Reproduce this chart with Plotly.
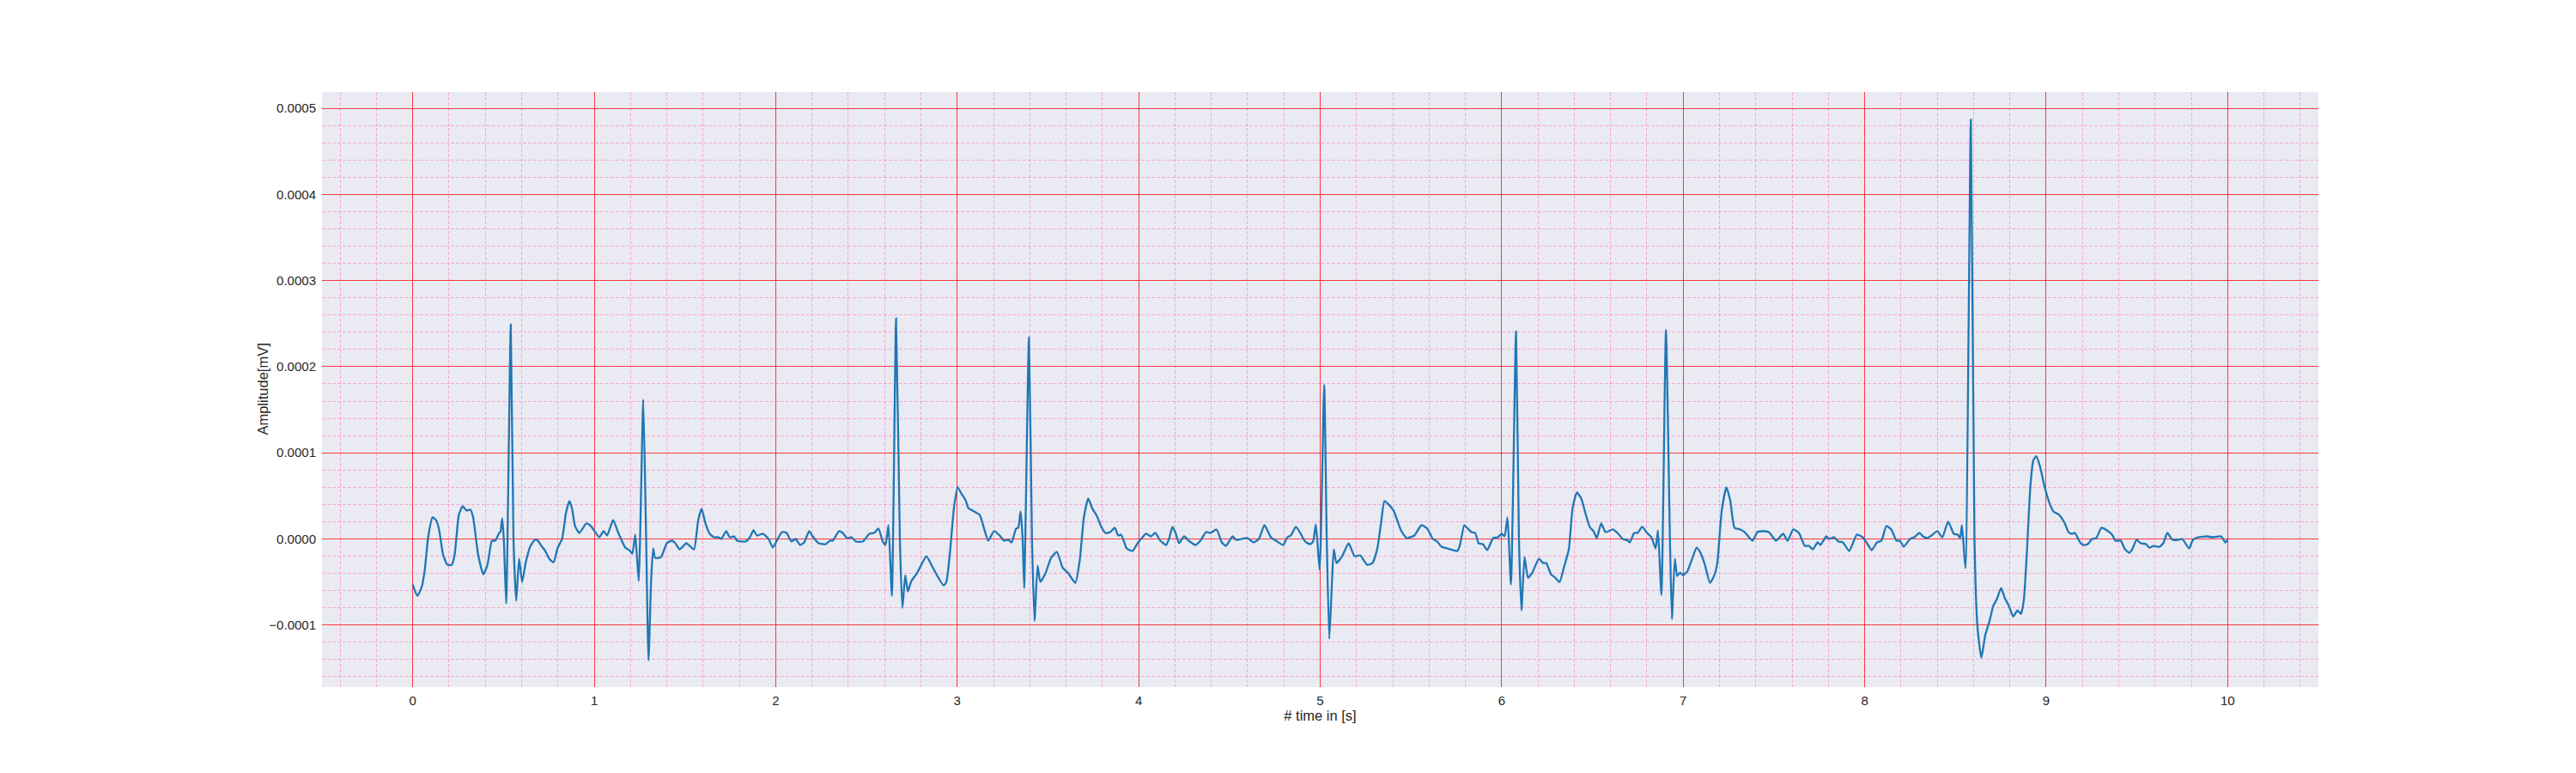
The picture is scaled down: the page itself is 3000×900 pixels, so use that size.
import plotly.graph_objects as go

# time in seconds
time_s = [
    0.000, 0.025, 0.049, 0.065, 0.085, 0.109, 0.128, 0.144, 0.167, 0.191, 0.215, 0.231, 0.254, 0.275, 0.297,
    0.318, 0.333, 0.360, 0.389, 0.412, 0.436, 0.455, 0.476, 0.483, 0.493, 0.502, 0.515, 0.540, 0.555, 0.570,
    0.586, 0.603, 0.622, 0.649, 0.673, 0.689, 0.712, 0.728, 0.752, 0.776, 0.799, 0.823, 0.844, 0.863, 0.878,
    0.894, 0.918, 0.957, 0.981, 1.005, 1.028, 1.052, 1.071, 1.104, 1.131, 1.171, 1.194, 1.210, 1.226, 1.245,
    1.270, 1.286, 1.299, 1.314, 1.325, 1.336, 1.368, 1.400, 1.428, 1.447, 1.471, 1.507, 1.526, 1.550, 1.573,
    1.592, 1.613, 1.636, 1.660, 1.684, 1.700, 1.727, 1.747, 1.771, 1.787, 1.834, 1.858, 1.877, 1.897, 1.929,
    1.961, 1.984,
    2.016, 2.035, 2.060, 2.086, 2.110, 2.134, 2.157, 2.184, 2.204, 2.236, 2.275, 2.299, 2.314, 2.349, 2.369,
    2.393, 2.417, 2.443, 2.480, 2.516, 2.542, 2.566, 2.590, 2.605, 2.621, 2.640, 2.663, 2.684, 2.698, 2.714,
    2.728, 2.747, 2.778, 2.802, 2.830, 2.865, 2.888, 2.925, 2.940, 2.959, 2.983, 3.003, 3.022, 3.046, 3.061,
    3.093, 3.124, 3.148, 3.171, 3.203, 3.234, 3.258, 3.281, 3.300, 3.324, 3.336, 3.349, 3.360, 3.369, 3.395,
    3.412, 3.426, 3.443, 3.458, 3.486, 3.517, 3.549, 3.580, 3.612, 3.651, 3.675, 3.698, 3.722, 3.745, 3.769,
    3.792, 3.816, 3.843, 3.868, 3.887, 3.903, 3.934, 3.965,
    3.994, 4.017, 4.041, 4.068, 4.091, 4.119, 4.151, 4.167, 4.186, 4.203, 4.222, 4.250, 4.281, 4.313, 4.340,
    4.371, 4.395, 4.429, 4.458, 4.481, 4.517, 4.536, 4.599, 4.634, 4.662, 4.693, 4.728, 4.756, 4.796, 4.819,
    4.838, 4.866, 4.890, 4.917, 4.945, 4.961, 4.976, 4.997, 5.022, 5.036, 5.050, 5.066, 5.075, 5.090, 5.121,
    5.157, 5.189, 5.220, 5.259, 5.288, 5.314, 5.335, 5.354, 5.377, 5.404, 5.445, 5.476, 5.495, 5.519, 5.558,
    5.590, 5.621, 5.645, 5.668, 5.700, 5.755, 5.770, 5.794, 5.809, 5.833, 5.854, 5.873, 5.896, 5.920,
    5.953, 5.979, 6.000, 6.016, 6.032, 6.051, 6.079, 6.095, 6.109, 6.126, 6.145, 6.169, 6.205, 6.229, 6.245,
    6.272, 6.295, 6.319, 6.343, 6.370, 6.390, 6.414, 6.438, 6.464, 6.485, 6.506, 6.524, 6.548, 6.572, 6.611,
    6.638, 6.667, 6.695, 6.706, 6.730, 6.749, 6.774, 6.801, 6.825, 6.848, 6.861, 6.880, 6.905, 6.927, 6.938,
    6.954, 6.967, 6.983, 6.998, 7.022, 7.046, 7.074, 7.093, 7.117, 7.148, 7.172, 7.188, 7.212, 7.238, 7.259,
    7.283, 7.314, 7.338, 7.382, 7.409, 7.441, 7.472, 7.512, 7.551, 7.575, 7.607, 7.638, 7.670, 7.693, 7.714,
    7.741, 7.757, 7.788, 7.804, 7.832, 7.855, 7.880, 7.915,
    7.957, 7.989, 8.013, 8.039, 8.068, 8.092, 8.120, 8.147, 8.175, 8.194, 8.215, 8.250, 8.273, 8.302, 8.321,
    8.344, 8.368, 8.400, 8.428, 8.460, 8.491, 8.513, 8.526, 8.536, 8.555, 8.585, 8.605, 8.621, 8.643, 8.665,
    8.687, 8.708, 8.728, 8.752, 8.771, 8.795, 8.818, 8.842, 8.861, 8.877, 8.893, 8.913, 8.929, 8.945, 8.965,
    8.992, 9.016, 9.040, 9.071, 9.103, 9.123, 9.142, 9.158, 9.187, 9.205, 9.229, 9.253, 9.276, 9.305, 9.335,
    9.363, 9.382, 9.411, 9.434, 9.458, 9.474, 9.498, 9.521, 9.550, 9.569, 9.592, 9.624, 9.645, 9.668, 9.695,
    9.727, 9.750, 9.787, 9.809, 9.837, 9.888, 9.916, 9.964, 9.987, 10.000,
]

# amplitude in units of 1e-5 mV
amplitude_1e5 = [
    -5.3, -6.6, -5.6, -3.8, 0.2, 2.5, 2.2, 1.2, -1.8, -3.0, -3.0, -1.8, 2.8, 3.8, 3.3,
    3.4, 2.5, -1.8, -4.1, -3.0, -0.2, -0.2, 0.7, 0.8, 2.4, -0.2, -7.5, 24.9, 0.0, -7.2,
    -2.3, -5.0, -2.8, -0.8, -0.1, -0.2, -0.9, -1.3, -2.3, -2.7, -1.0, 0.0, 3.0, 4.4, 3.5,
    1.5, 0.7, 1.8, 1.5, 0.8, 0.2, 0.9, 0.4, 2.2, 0.8, -1.0, -1.3, -1.7, 0.5, -4.9,
    16.2, 0.0, -14.1, -4.5, -1.1, -2.2, -2.1, -0.5, -0.2, -0.5, -1.2, -0.5, -0.8, -1.2, 2.2,
    3.5, 1.8, 0.6, 0.2, 0.2, 0.0, 0.9, 0.2, 0.3, -0.2, -0.3, 0.2, 1.0, 0.4, 0.6,
    0.0, -1.0,
    0.2, 0.8, 0.7, -0.3, 0.0, -0.7, -0.4, 0.9, 0.3, -0.5, -0.6, -0.2, -0.2, 0.9, 0.7,
    0.1, 0.2, -0.3, -0.3, 0.6, 0.7, 1.2, -0.3, -0.7, 1.6, -6.6, 25.6, 0.0, -8.0, -4.2,
    -6.1, -4.9, -4.0, -3.0, -2.0, -3.3, -4.2, -5.4, -5.0, -1.8, 3.8, 6.0, 5.3, 4.5, 3.6,
    3.2, 2.8, 1.2, -0.2, 0.9, 0.4, -0.2, -0.1, -0.4, 1.2, 1.3, 3.2, 0.2, -5.7, 23.4,
    0.0, -9.5, -3.1, -5.0, -4.0, -2.2, -1.5, -3.3, -4.0, -5.1, -2.5, 2.5, 4.7, 3.5, 2.7,
    1.5, 0.7, 0.8, 1.3, 0.4, 0.5, -1.1, -1.4,
    -0.5, 0.1, 0.6, 0.3, 0.7, -0.2, -0.7, 0.0, 1.4, 0.7, -0.5, 0.3, -0.3, -0.7, -0.2,
    0.8, 0.7, 1.1, -0.4, -0.8, 0.3, -0.1, 0.1, -0.4, 0.0, 1.6, 0.2, -0.2, -0.7, 0.2,
    0.4, 1.4, 0.7, -0.3, -0.6, -0.3, 1.7, -3.6, 17.9, 0.0, -11.6, -4.5, -1.2, -2.8, -2.0,
    -0.5, -2.0, -1.9, -3.0, -2.8, -1.2, 1.8, 4.4, 4.0, 3.3, 1.0, 0.1, 0.2, 0.4, 1.6,
    1.2, 0.0, -0.3, -0.9, -1.1, -1.4, -0.7, 1.6, 1.3, 0.8, 0.7, -0.5, -0.6, -1.3,
    0.1, 0.2, 0.6, 0.3, 2.5, -5.3, 24.1, 0.0, -8.3, -2.1, -4.5, -3.9, -2.3, -2.8, -2.8,
    -4.1, -4.5, -5.0, -3.3, -1.2, 3.5, 5.4, 4.7, 2.8, 1.4, 0.9, 0.1, 1.8, 0.8, 1.1,
    0.7, 0.0, -0.2, -0.4, 0.7, 0.7, 1.4, 0.7, 0.2, -1.1, 1.0, -6.5, 24.3, 0.0, -9.3,
    -2.3, -4.3, -3.9, -4.2, -3.8, -2.5, -1.0, -1.5, -2.8, -5.1, -4.2, -2.8, 3.2, 6.0, 4.5,
    1.3, 1.1, 0.8, -0.2, 0.8, 0.9, 0.8, -0.2, 0.6, -0.2, 1.1, 0.7, -0.8, -0.8, -1.2,
    -0.4, -0.7, 0.3, 0.0, 0.2, -0.3, -0.4, -1.4,
    0.5, 0.2, -0.5, -1.3, -0.4, -0.2, 1.5, 1.1, -0.2, -0.2, -0.9, 0.0, 0.2, 0.7, 0.3,
    0.1, 0.4, 0.9, 0.2, 2.0, 0.6, 0.5, 0.1, 1.6, -3.4, 48.7, 0.0, -10.1, -13.8, -11.1,
    -9.6, -7.8, -7.0, -5.7, -6.8, -7.8, -9.0, -8.3, -8.7, -7.1, -1.8, 6.1, 9.1, 9.6, 8.5,
    6.0, 4.3, 3.2, 2.8, 1.8, 0.8, 0.6, 0.7, -0.4, -0.7, -0.6, 0.0, 0.1, 1.3, 1.0,
    0.5, -0.2, -0.2, -1.2, -1.6, -1.2, -0.1, -0.5, -0.6, -1.0, -0.8, -0.9, -0.5, 0.7, -0.1,
    -0.1, 0.0, -1.1, -0.1, 0.2, 0.3, 0.2, 0.3, -0.4, -0.1,
]

amplitude_mV = [a * 1e-5 for a in amplitude_1e5]

x_tick_vals = [0, 1, 2, 3, 4, 5, 6, 7, 8, 9, 10]
y_tick_vals = [-0.0001, 0.0, 0.0001, 0.0002, 0.0003, 0.0004, 0.0005]

FONT = "Liberation Sans, Arial, sans-serif"
TEXT = "#262626"
MAJOR = "rgba(255,0,0,0.7)"
MINOR = "rgba(255,105,180,0.5)"

fig = go.Figure()
fig.add_trace(go.Scatter(
    x=time_s, y=amplitude_mV, mode="lines",
    line=dict(color="#1f77b4", width=2.3, shape="spline", smoothing=0.5),
    showlegend=False, hoverinfo="skip",
))

fig.update_layout(
    width=2992, height=892,
    paper_bgcolor="white", plot_bgcolor="#EAEAF2",
    margin=dict(l=367, r=300, t=99, b=100),
    font=dict(family=FONT, color=TEXT, size=15),
)

fig.update_xaxes(
    range=[-0.5, 10.5], tickvals=x_tick_vals, ticktext=[str(v) for v in x_tick_vals],
    showgrid=True, gridcolor=MAJOR, gridwidth=1,
    zeroline=False, showline=False, ticks="", ticklabelstandoff=5,
    tickfont=dict(size=15, family=FONT, color=TEXT),
    minor=dict(dtick=0.2, tick0=0, showgrid=True, gridcolor=MINOR, gridwidth=1, griddash="4px,2px"),
    title=dict(text="# time in [s]", font=dict(size=16.5, family=FONT, color=TEXT), standoff=1),
)
fig.update_yaxes(
    range=[-0.000172, 0.000519], tickvals=y_tick_vals, tickformat=".4f",
    showgrid=True, gridcolor=MAJOR, gridwidth=1,
    zeroline=False, showline=False, ticks="", ticklabelstandoff=6,
    tickfont=dict(size=15, family=FONT, color=TEXT),
    minor=dict(dtick=0.00002, tick0=0, showgrid=True, gridcolor=MINOR, gridwidth=1, griddash="4px,2px"),
)

fig.add_annotation(
    text="Amplitude[mV]", xref="paper", yref="paper", x=0, y=0.5,
    xanchor="center", yanchor="middle", xshift=-70, textangle=-90, showarrow=False,
    font=dict(size=16.5, family=FONT, color=TEXT),
)

fig.write_html("out.html")
